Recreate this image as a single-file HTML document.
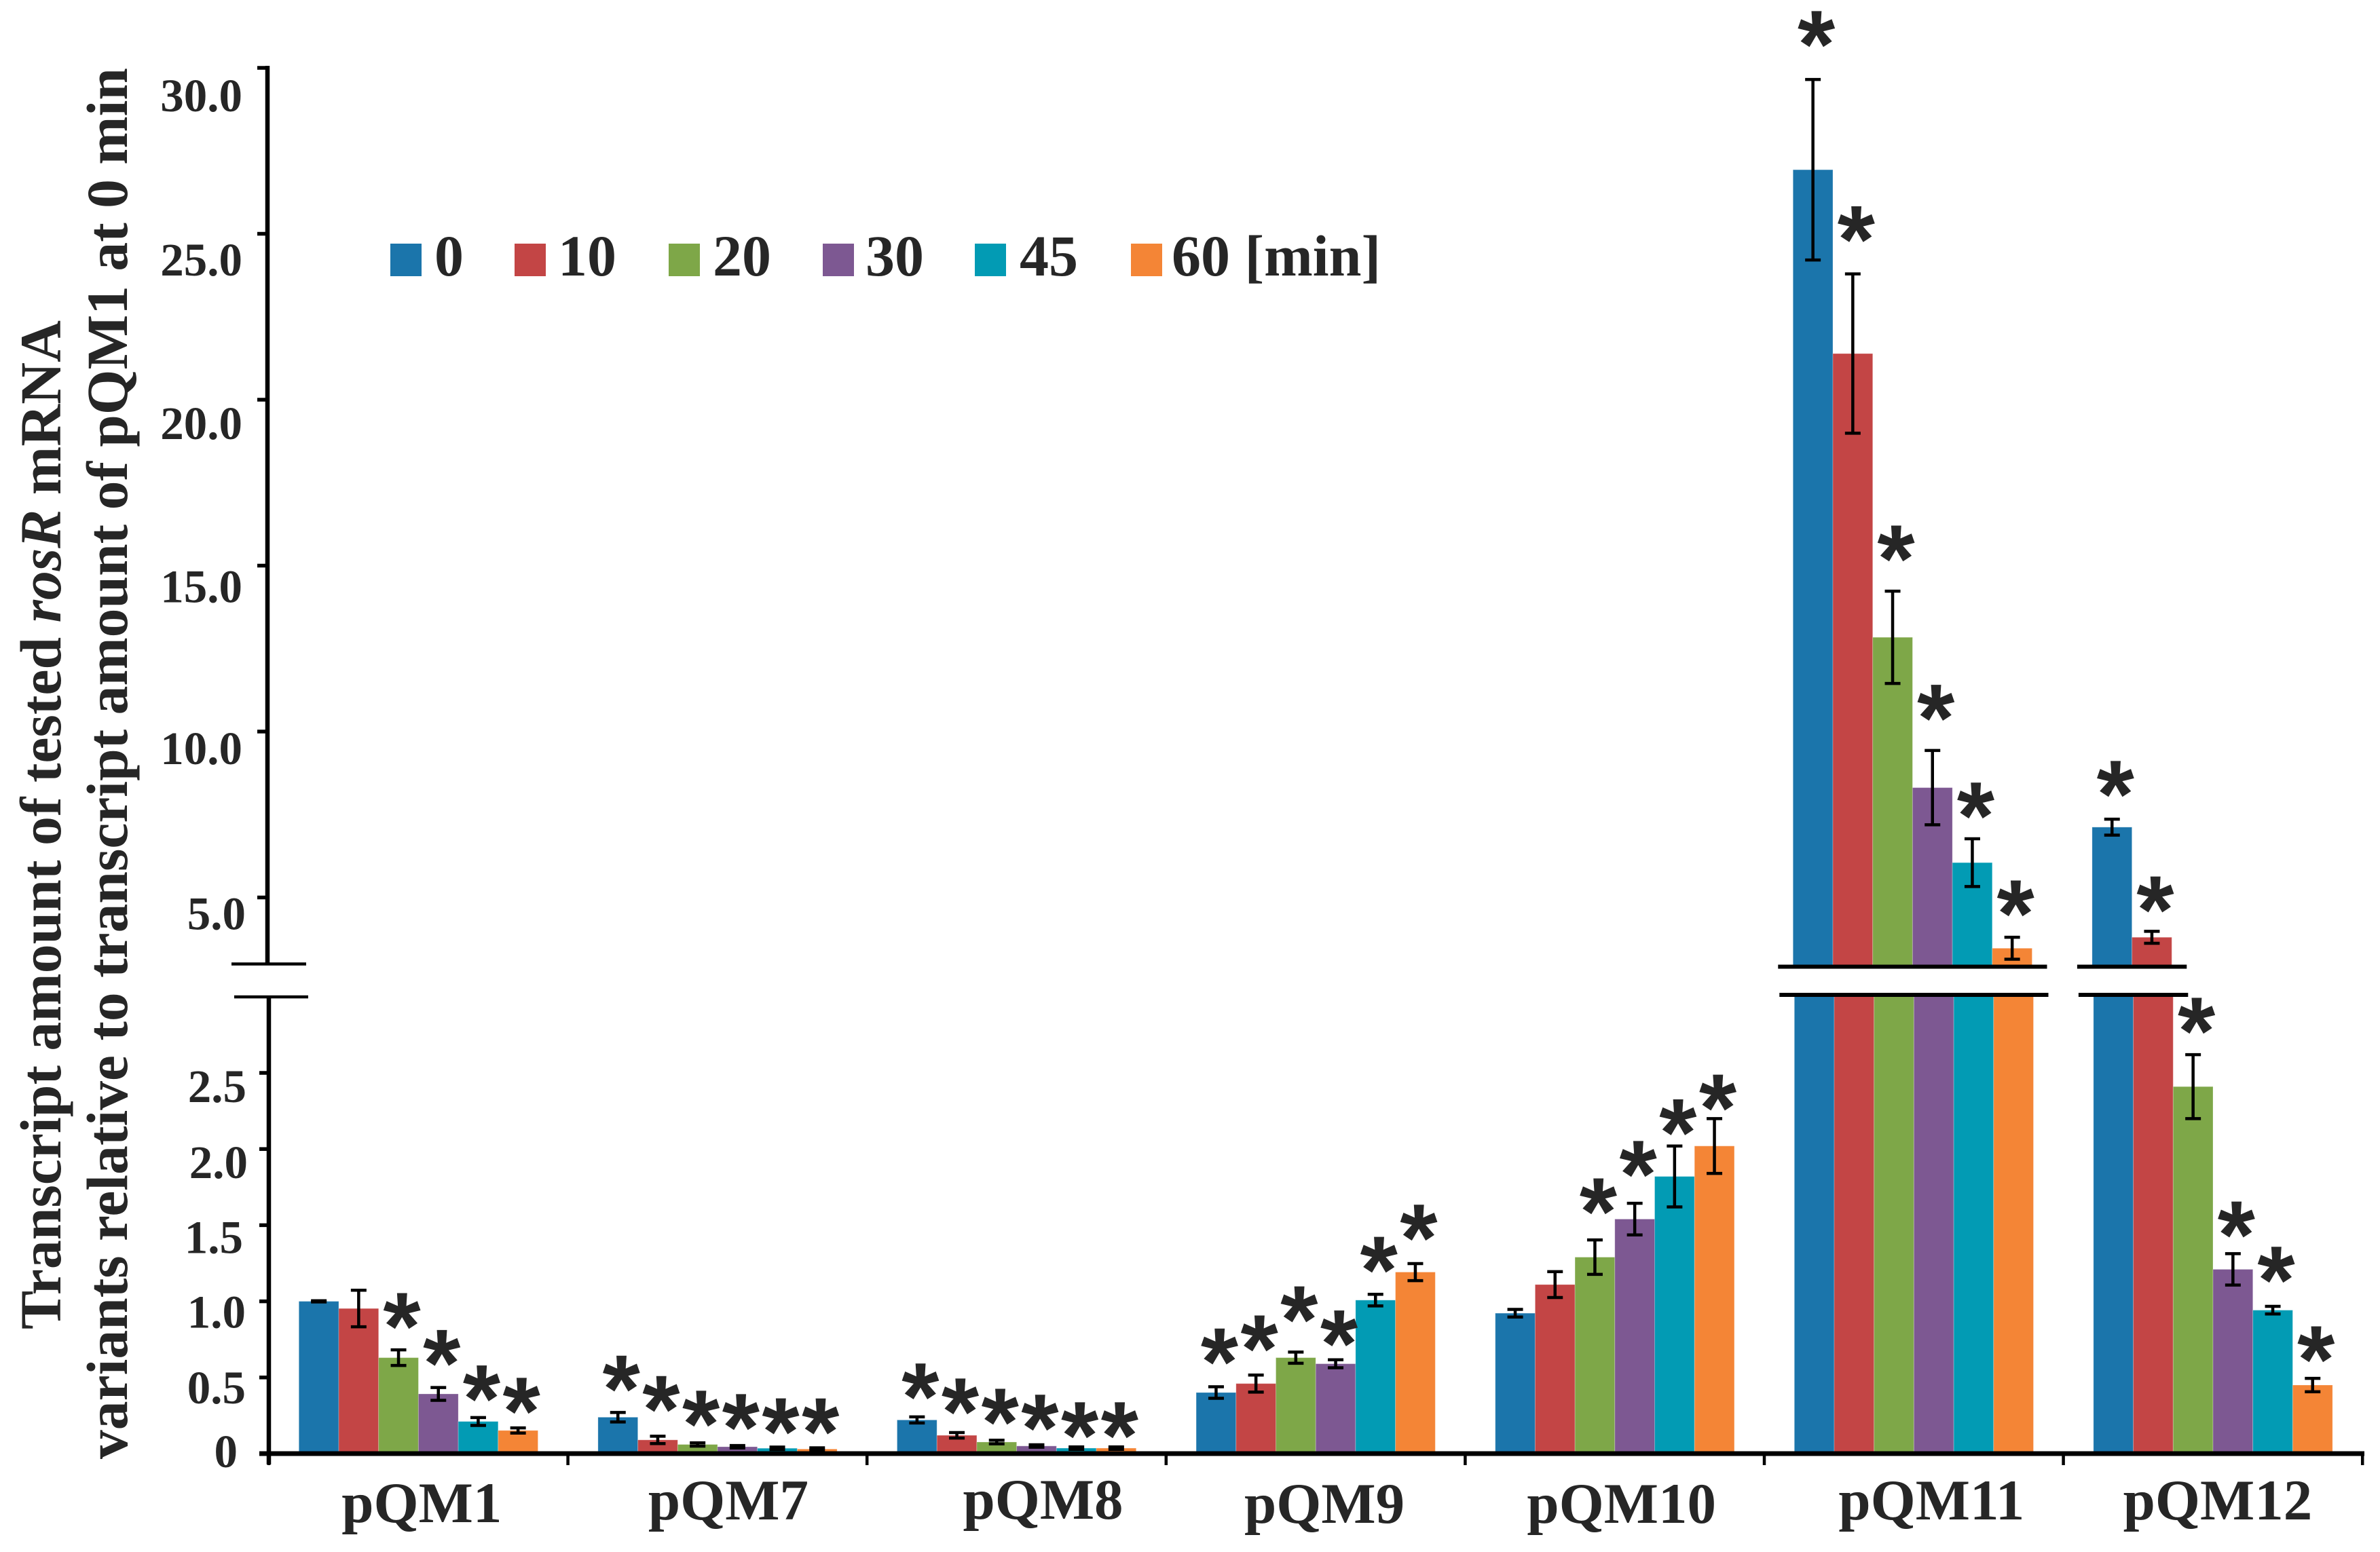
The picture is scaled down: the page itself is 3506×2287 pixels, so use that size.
<!DOCTYPE html>
<html lang="en">
<head>
<meta charset="utf-8">
<title>rosR transcript amounts</title>
<style>
html,body{margin:0;padding:0;background:#fff}
svg{display:block}
text{font-family:"Liberation Serif",serif;font-weight:bold;fill:#262626}
.star{font-family:"Liberation Sans",sans-serif}
</style>
</head>
<body>
<svg id="chart" xmlns="http://www.w3.org/2000/svg" width="3506" height="2287" viewBox="0 0 3506 2287">
  <rect width="3506" height="2287" fill="#ffffff"/>
  <text transform="translate(89,1959) rotate(-90)" font-size="86" textLength="1487" lengthAdjust="spacingAndGlyphs">Transcript amount of tested <tspan font-style="italic">rosR</tspan> mRNA</text>
  <text transform="translate(187,2150) rotate(-90)" font-size="86" textLength="2050" lengthAdjust="spacingAndGlyphs">variants relative to transcript amount of pQM1 at 0 min</text>
</svg>
<script>
// ---- chart data ----
const categories = ['pQM1','pQM7','pQM8','pQM9','pQM10','pQM11','pQM12'];
const seriesNames = ['0','10','20','30','45','60 [min]'];
const values0  = [1.00,0.239,0.221,0.401,0.922,26.93,7.12];
const values10 = [0.953,0.090,0.120,0.460,1.11,21.39,3.80];
const values20 = [0.630,0.060,0.076,0.630,1.29,12.84,2.41];
const values30 = [0.392,0.045,0.050,0.590,1.54,8.31,1.21];
const values45 = [0.211,0.035,0.036,1.008,1.82,6.05,0.942];
const values60 = [0.152,0.030,0.036,1.192,2.02,3.47,0.450];
const errors0  = [0.004,0.031,0.020,0.038,0.025,2.72,0.24];
const errors10 = [0.120,0.024,0.018,0.056,0.085,2.40,0.18];
const errors20 = [0.051,0.011,0.012,0.037,0.113,1.39,0.21];
const errors30 = [0.042,0.008,0.008,0.026,0.104,1.12,0.103];
const errors45 = [0.026,0.008,0.008,0.038,0.200,0.72,0.025];
const errors60 = [0.017,0.008,0.008,0.056,0.180,0.33,0.044];
const signif0  = [0,1,1,1,0,1,1];
const signif10 = [0,1,1,1,0,1,1];
const signif20 = [1,1,1,1,1,1,1];
const signif30 = [1,1,1,1,1,1,1];
const signif45 = [1,1,1,1,1,1,1];
const signif60 = [1,1,1,1,1,1,1];
const upperTicks = [5,10,15,20,25,30];
const upperTickLabels = ['5.0','10.0','15.0','20.0','25.0','30.0'];
const lowerTicks = [0,0.5,1,1.5,2,2.5];
const lowerTickLabels = ['0','0.5','1.0','1.5','2.0','2.5'];

const seriesValues = [values0,values10,values20,values30,values45,values60];
const seriesErrors = [errors0,errors10,errors20,errors30,errors45,errors60];
const seriesSignif = [signif0,signif10,signif20,signif30,signif45,signif60];

// ---- layout (not data) ----
const colors = ['#1b75ab','#c34545','#7ea748','#7d5892','#029bb4','#f48536'];
const BREAK = 3, Y0 = 2142, LOWER_PX = 224.4, Y30 = 100, UPPER_PX = 48.9;
const BREAK_UP_Y = 1424.5, BREAK_LOW_Y = 1466;
const X0 = 396, GROUP_W = 440.6, BAR_W = 58.7, GROUP_PAD = 44.3;
const starClearance = [
  [0,0,57,58,50,47],[57,62,50,49,45,46],[52,53,49,47,39,39],
  [59,61,70,46,58,60],[0,0,64,65,42,38],[74,73,70,70,56,57],[59,54,57,50,61,50]];
const upperLabelDrop = [47,48,54,58,61.6,64];
const lowerLabelDrop = [20,38,39,41,43,43];
const lowerLabelRight = [350,362,362,358,365,363];
const catLabelShift = [5,16,39,13,10,26,7];
const catLabelDrop = [2243,2239,2238,2244,2244,2239,2239];
const legendSwatchX = [575,758,985,1212,1436,1666];
const legendTextX = [640,822,1050,1275,1502,1726];

// ---- axis functions ----
function yLower(v){ return Y0 - v * LOWER_PX; }
function yUpper(v){ return Y30 + (30 - v) * UPPER_PX; }
function yFor(v, domainValue){ return domainValue > BREAK ? yUpper(v) : yLower(v); }
function groupLeft(c){ return X0 + c * GROUP_W + GROUP_PAD; }
function barX(c, s){ return groupLeft(c) + s * BAR_W; }

const svg = document.getElementById('chart');
function mk(tag, attrs, text){
  const el = document.createElementNS('http://www.w3.org/2000/svg', tag);
  for (const k in attrs) el.setAttribute(k, attrs[k]);
  if (text !== undefined) el.textContent = text;
  svg.appendChild(el);
  return el;
}

// bars
categories.forEach(function(cat, c){
  seriesValues.forEach(function(vals, s){
    const v = vals[c];
    const x = barX(c, s);
    const lowTop = v > BREAK ? BREAK_LOW_Y : yLower(v);
    const low = mk('rect', {x:x, y:lowTop, width:BAR_W, height:Y0-lowTop, fill:colors[s], stroke:'#fff', 'stroke-opacity':0.25, 'stroke-width':1});
    
    
    if (v > BREAK) {
      const top = yUpper(v);
      const up = mk('rect', {x:x-2, y:top, width:BAR_W, height:BREAK_UP_Y-top, fill:colors[s], stroke:'#fff', 'stroke-opacity':0.25, 'stroke-width':1});
      
      
    }
  });
});

// break lines over tall bars
categories.forEach(function(cat, c){
  let last = -1;
  seriesValues.forEach(function(vals, s){ if (vals[c] > BREAK) last = s; });
  if (last < 0) return;
  const x1 = barX(c, 0) - 24, x2 = barX(c, last + 1) + 20;
  const a = mk('line', {x1:x1, x2:x2, y1:BREAK_UP_Y, y2:BREAK_UP_Y, stroke:'#000', 'stroke-width':6});
  
  
  const b = mk('line', {x1:x1+2, x2:x2+2, y1:BREAK_LOW_Y, y2:BREAK_LOW_Y, stroke:'#000', 'stroke-width':6});
  
  
});

// error bars and significance stars
categories.forEach(function(cat, c){
  seriesValues.forEach(function(vals, s){
    const v = vals[c], e = seriesErrors[s][c];
    const tall = v > BREAK;
    const cx = barX(c, s) + BAR_W / 2 - (tall ? 2 : 0);
    const yHi = yFor(v + e, v), yLo = yFor(v - e, v);
    const stem = mk('line', {x1:cx, x2:cx, y1:yHi, y2:yLo, stroke:'#000', 'stroke-width':4.5});
    
    
    const capTop = mk('line', {x1:cx-11.5, x2:cx+11.5, y1:yHi, y2:yHi, stroke:'#000', 'stroke-width':4.5});
    
    
    const capBot = mk('line', {x1:cx-11.5, x2:cx+11.5, y1:yLo, y2:yLo, stroke:'#000', 'stroke-width':4.5});
    
    
    if (seriesSignif[s][c]) {
      const cy = yHi - starClearance[c][s];
      const star = mk('text', {x:cx+5, y:cy+71, 'text-anchor':'middle', 'font-size':142, class:'star'}, '*');
      
      
    }
  });
});

// y axes
const upperAxis = mk('line', {x1:394, x2:394, y1:yUpper(30)-3, y2:1420, stroke:'#000', 'stroke-width':6.5});


const lowerAxis = mk('line', {x1:396, x2:396, y1:1469, y2:2158, stroke:'#000', 'stroke-width':6.5});


const breakUp = mk('line', {x1:341, x2:451, y1:1420.5, y2:1420.5, stroke:'#000', 'stroke-width':4.5});


const breakLow = mk('line', {x1:345, x2:454, y1:1469, y2:1469, stroke:'#000', 'stroke-width':4.5});



upperTicks.forEach(function(t, i){
  const y = yUpper(t);
  const tick = mk('line', {x1:379, x2:394, y1:y, y2:y, stroke:'#000', 'stroke-width':5.5});
  
  
  const lab = mk('text', {x:t === 5 ? 362 : 357, y:y + upperLabelDrop[i], 'text-anchor':'end', 'font-size':69}, upperTickLabels[i]);
  
  
});
lowerTicks.forEach(function(t, i){
  const y = yLower(t);
  const tick = mk('line', {x1:382, x2:396, y1:y, y2:y, stroke:'#000', 'stroke-width':5.5});
  
  
  const lab = mk('text', {x:lowerLabelRight[i], y:y + lowerLabelDrop[i], 'text-anchor':'end', 'font-size':69}, lowerTickLabels[i]);
  
  
});

// x axis
const xAxis = mk('line', {x1:382, x2:3483, y1:Y0, y2:Y0, stroke:'#000', 'stroke-width':7});


for (let i = 0; i <= categories.length; i++) {
  const x = X0 + i * GROUP_W;
  const t = mk('line', {x1:x, x2:x, y1:Y0, y2:2159, stroke:'#000', 'stroke-width':4.5});
  
  
}
categories.forEach(function(cat, c){
  const cx = X0 + (c + 0.5) * GROUP_W + catLabelShift[c];
  const lab = mk('text', {x:cx, y:catLabelDrop[c], 'text-anchor':'middle', 'font-size':85}, cat);
  
  
});

// legend
seriesNames.forEach(function(name, s){
  const sw = mk('rect', {x:legendSwatchX[s], y:359, width:46, height:48, fill:colors[s]});
  
  
  const tx = mk('text', {x:legendTextX[s], y:406, 'font-size':86}, name);
  
  
});
</script>
</body>
</html>
